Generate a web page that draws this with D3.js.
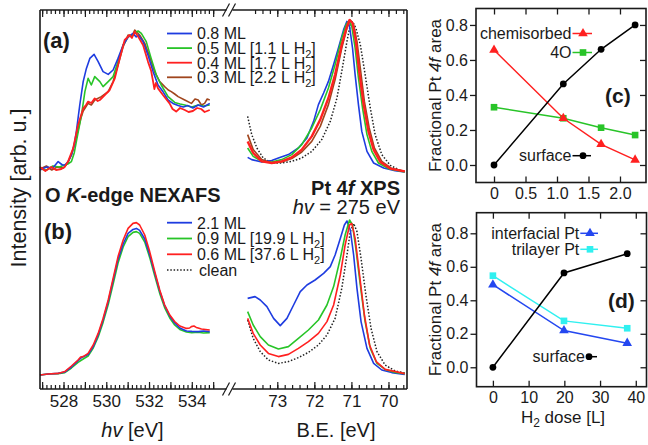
<!DOCTYPE html>
<html lang="en">
<head>
<meta charset="utf-8">
<title>NEXAFS / XPS panels</title>
<script src="https://cdn.jsdelivr.net/npm/d3@7"></script>
<style>
  body { margin: 0; background: #fff; }
</style>
</head>
<body>
<svg id="fig" width="648" height="445"></svg>
<script>
// ---- data (intensity in arb. units, energies in eV) ----

// (a) O K-edge NEXAFS, [photon energy, intensity]
var nexA_08 = [[526.9,10.95],[527.2,11.1],[527.5,11.05],[527.75,11.37],[527.95,11.2],[528.06,11.2],[528.2,11.35],[528.37,11.7],[528.5,12.2],[528.6,12.87],[528.76,14.2],[528.92,15.37],[529.07,16.03],[529.23,16.53],[529.43,16.73],[529.62,16.37],[529.85,15.87],[530.09,15.73],[530.32,15.95],[530.55,16.53],[530.79,17.2],[531.02,17.6],[531.25,17.78],[531.4,17.6],[531.49,17.7],[531.72,17.37],[531.95,16.7],[532.19,15.87],[532.42,15.2],[532.65,14.87],[532.89,14.45],[533.12,14.28],[533.36,14.17],[533.6,14.1],[533.82,14.17],[534.05,14.05],[534.3,14.2],[534.55,14.1],[534.84,14.28]];
var nexA_05 = [[526.9,11.0],[527.2,10.95],[527.5,11.15],[527.8,11.1],[528.06,11.2],[528.2,11.25],[528.37,11.37],[528.5,11.8],[528.6,12.37],[528.84,13.7],[529.0,14.87],[529.15,15.53],[529.3,15.2],[529.46,15.62],[529.7,15.37],[529.85,15.12],[530.09,15.37],[530.32,15.62],[530.55,16.37],[530.79,17.2],[531.02,17.6],[531.33,17.78],[531.49,17.9],[531.64,17.78],[531.87,17.37],[532.1,16.53],[532.34,15.7],[532.57,15.2],[532.89,14.62],[533.2,14.33],[533.45,14.25],[533.67,14.2],[534.0,14.1],[534.3,14.2],[534.55,14.15],[534.84,14.2]];
var nexA_04 = [[526.9,11.1],[527.15,10.9],[527.43,11.1],[527.65,10.95],[527.9,11.0],[528.05,11.1],[528.21,11.37],[528.45,12.03],[528.68,13.2],[528.92,14.03],[529.05,14.2],[529.15,14.37],[529.3,14.3],[529.46,14.53],[529.6,14.4],[529.7,14.45],[529.93,14.7],[530.16,14.95],[530.4,15.53],[530.63,16.53],[530.86,17.45],[531.1,17.7],[531.2,17.55],[531.33,17.87],[531.49,17.62],[531.72,17.2],[531.95,16.37],[532.1,15.9],[532.19,15.37],[532.25,15.0],[532.32,15.3],[532.42,15.03],[532.65,14.7],[532.96,14.28],[533.1,14.0],[533.27,13.87],[533.45,14.05],[533.67,13.95],[533.85,13.85],[534.05,13.9],[534.25,14.05],[534.44,14.0],[534.6,13.85],[534.84,13.95]];
var nexA_03 = [[526.9,11.0],[527.2,11.15],[527.45,10.95],[527.7,11.1],[528.0,11.05],[528.2,11.3],[528.37,11.7],[528.6,12.6],[528.8,13.5],[528.92,13.9],[529.15,14.28],[529.3,14.2],[529.46,14.45],[529.77,14.62],[530.09,14.87],[530.32,15.37],[530.55,16.2],[530.79,17.12],[531.02,17.7],[531.2,17.6],[531.33,17.95],[531.56,17.7],[531.8,17.28],[532.03,16.62],[532.26,15.87],[532.5,15.37],[532.73,15.12],[532.9,14.95],[533.04,14.87],[533.2,14.75],[533.36,14.62],[533.67,14.45],[533.98,14.28],[534.15,14.5],[534.3,14.45],[534.45,14.2],[534.6,14.28],[534.72,14.5],[534.84,14.45]];

// (a) Pt 4f XPS, [binding energy, intensity]
var xpsA_08 = [[73.8,11.58],[73.69,11.47],[73.42,11.35],[73.15,11.42],[72.97,11.55],[72.7,11.72],[72.43,12.05],[72.2,12.55],[72.02,13.38],[71.89,14.22],[71.75,14.8],[71.62,15.38],[71.48,16.22],[71.35,17.05],[71.21,17.97],[71.12,18.38],[71.05,18.13],[70.97,17.05],[70.9,15.72],[70.81,14.22],[70.72,12.88],[70.58,11.88],[70.4,11.3],[70.13,11.05],[69.82,10.92],[69.56,10.85]];
var xpsA_05 = [[73.8,12.05],[73.65,11.63],[73.42,11.38],[73.15,11.35],[72.88,11.47],[72.61,11.72],[72.34,12.22],[72.07,13.05],[71.84,13.97],[71.62,15.05],[71.44,16.22],[71.26,17.55],[71.14,18.22],[71.06,18.42],[70.99,18.13],[70.9,17.05],[70.81,15.55],[70.7,14.05],[70.58,12.72],[70.45,11.88],[70.27,11.3],[70.0,11.02],[69.56,10.85]];
var xpsA_04 = [[73.8,12.38],[73.65,11.8],[73.42,11.38],[73.15,11.3],[72.88,11.38],[72.61,11.58],[72.34,11.97],[72.07,12.63],[71.84,13.47],[71.62,14.55],[71.44,15.72],[71.26,17.22],[71.12,18.13],[71.05,18.45],[70.97,18.3],[70.88,17.38],[70.79,15.88],[70.67,14.22],[70.54,12.88],[70.4,11.97],[70.22,11.35],[69.95,11.02],[69.56,10.88]];
var xpsA_03 = [[73.8,12.72],[73.65,11.97],[73.42,11.47],[73.15,11.3],[72.88,11.35],[72.61,11.52],[72.34,11.85],[72.07,12.38],[71.84,13.13],[71.62,14.22],[71.44,15.47],[71.26,17.05],[71.12,18.05],[71.03,18.45],[70.94,18.22],[70.85,17.38],[70.76,16.05],[70.65,14.38],[70.52,13.05],[70.38,12.05],[70.18,11.38],[69.91,11.02],[69.56,10.88]];
var xpsA_clean = [[73.8,13.63],[73.69,12.72],[73.55,12.05],[73.38,11.55],[73.15,11.3],[72.88,11.3],[72.61,11.38],[72.34,11.55],[72.07,11.88],[71.8,12.47],[71.57,13.38],[71.39,14.55],[71.26,15.88],[71.12,17.38],[71.03,18.22],[70.97,18.38],[70.88,18.05],[70.76,17.22],[70.63,15.72],[70.49,14.05],[70.36,12.72],[70.18,11.72],[69.95,11.18],[69.73,10.97],[69.56,10.88]];

// (b) O K-edge NEXAFS
var nexB_21 = [[526.9,0.7],[527.28,0.75],[527.75,0.78],[528.06,0.85],[528.37,1.1],[528.68,1.42],[528.85,1.58],[529.15,1.72],[529.39,2.12],[529.62,2.7],[529.85,3.45],[530.09,4.37],[530.32,5.43],[530.55,6.48],[530.79,7.25],[531.02,7.78],[531.25,7.98],[531.41,8.03],[531.56,7.93],[531.8,7.5],[532.03,6.72],[532.27,5.78],[532.5,4.9],[532.73,4.18],[532.97,3.65],[533.2,3.3],[533.44,3.05],[533.75,2.9],[534.0,2.88],[534.3,2.87],[534.55,2.9],[534.84,2.87]];
var nexB_09 = [[526.9,0.7],[527.28,0.75],[527.75,0.77],[528.06,0.82],[528.37,1.05],[528.68,1.33],[528.92,1.5],[529.15,1.65],[529.39,2.05],[529.62,2.6],[529.85,3.33],[530.09,4.22],[530.32,5.25],[530.55,6.3],[530.79,7.1],[531.02,7.62],[531.25,7.83],[531.41,7.87],[531.56,7.78],[531.8,7.35],[532.03,6.58],[532.27,5.65],[532.5,4.78],[532.73,4.07],[532.97,3.55],[533.2,3.2],[533.44,2.98],[533.75,2.85],[534.0,2.82],[534.3,2.84],[534.55,2.8],[534.84,2.82]];
var nexB_06 = [[526.9,0.7],[527.28,0.75],[527.75,0.78],[528.06,0.87],[528.37,1.15],[528.68,1.45],[528.8,1.6],[528.92,1.62],[529.15,1.78],[529.39,2.2],[529.62,2.78],[529.85,3.53],[530.09,4.45],[530.32,5.53],[530.55,6.62],[530.79,7.45],[531.02,8.03],[531.25,8.28],[531.41,8.32],[531.56,8.2],[531.8,7.7],[532.03,6.87],[532.27,5.87],[532.5,4.95],[532.73,4.2],[532.97,3.7],[533.2,3.37],[533.44,3.15],[533.75,3.03],[533.9,3.05],[533.98,3.12],[534.1,3.15],[534.21,3.08],[534.3,3.05],[534.45,3.0],[534.84,2.95]];

// (b) Pt 4f XPS
var xpsB_21 = [[73.8,4.53],[73.6,4.62],[73.46,4.45],[73.28,4.12],[73.1,3.53],[72.92,3.17],[72.74,3.53],[72.56,4.2],[72.38,4.87],[72.2,5.2],[71.98,5.45],[71.75,5.78],[71.57,6.12],[71.44,6.7],[71.3,7.53],[71.19,8.2],[71.12,8.4],[71.03,7.95],[70.94,6.7],[70.85,5.03],[70.74,3.37],[70.58,2.03],[70.4,1.28],[70.18,0.95],[69.91,0.82],[69.56,0.73]];
var xpsB_09 = [[73.8,3.87],[73.65,3.2],[73.46,2.62],[73.24,2.2],[72.97,2.0],[72.7,2.12],[72.43,2.53],[72.16,2.95],[71.89,3.45],[71.66,4.2],[71.48,5.12],[71.3,6.53],[71.17,7.7],[71.05,8.45],[70.97,8.2],[70.88,7.03],[70.76,5.2],[70.63,3.37],[70.49,2.03],[70.31,1.28],[70.09,0.98],[69.82,0.83],[69.56,0.77]];
var xpsB_06 = [[73.8,3.53],[73.65,2.78],[73.46,2.2],[73.24,1.78],[72.97,1.62],[72.7,1.73],[72.43,2.03],[72.16,2.37],[71.89,2.78],[71.66,3.37],[71.48,4.2],[71.3,5.7],[71.17,7.2],[71.05,8.2],[70.99,8.28],[70.9,7.53],[70.78,5.7],[70.65,3.7],[70.51,2.2],[70.33,1.37],[70.09,0.98],[69.56,0.77]];
var xpsB_clean = [[73.8,3.45],[73.65,2.53],[73.46,1.87],[73.24,1.45],[72.97,1.28],[72.7,1.37],[72.43,1.57],[72.16,1.83],[71.89,2.2],[71.66,2.7],[71.44,3.53],[71.26,5.03],[71.12,6.7],[71.03,7.87],[70.94,8.28],[70.85,7.87],[70.74,6.53],[70.61,4.7],[70.47,3.03],[70.31,1.87],[70.09,1.2],[69.82,0.9],[69.56,0.8]];

// legends of (a) and (b)
var covA = ["0.8", "0.5", "0.4", "0.3"];
var doseA = [null, "1.1", "1.7", "2.2"];
var covB = ["2.1", "0.9", "0.6", "clean"];
var doseB = [null, "19.9", "37.6", null];

// tick labels
var nexLabels = [528, 530, 532, 534];
var xpsLabels = [73, 72, 71, 70];

// (c) fractional Pt 4f areas vs H2 dose [L]
var doseC = [0, 1.1, 1.7, 2.24];
var surfC = [0, 0.463, 0.661, 0.80];
var chemC = [0.657, 0.267, 0.118, 0.029];
var fourOC = [0.33, 0.267, 0.213, 0.171];

// (d)
var doseD = [0, 19.9, 37.6];
var surfD = [0, 0.563, 0.678];
var interD = [0.493, 0.219, 0.144];
var triD = [0.547, 0.277, 0.233];

// ---- drawing ----
var FONT = '"Liberation Sans", Arial, Helvetica, sans-serif';
var blue = "#1e3ce0", green = "#28c428", red = "#ff2020", brown = "#a0461e",
    cyan = "#30f0f0", iblue = "#2447f0", ink = "#1a1a1a";

var svg = d3.select("#fig").attr("font-family", FONT);
svg.append("rect").attr("width", 648).attr("height", 445).attr("fill", "#fff");

// left panel geometry
var L = 40, R = 407, T = 10, B = 389, BX = 229;
var xN = d3.scaleLinear().domain([526.9, 535.6]).range([L, 226]);
var xB = d3.scaleLinear().domain([74.33, 69.5]).range([228, R]);
var yI = d3.scaleLinear().domain([0, 18.95]).range([B, T]);

function curve(data, xs, color, w, dash) {
  svg.append("path")
    .datum(data)
    .attr("fill", "none")
    .attr("stroke", color)
    .attr("stroke-width", w)
    .attr("stroke-linejoin", "round")
    .attr("stroke-dasharray", dash || null)
    .attr("d", d3.line().x(function(d) { return xs(d[0]); }).y(function(d) { return yI(d[1]); }));
}

curve(nexA_03, xN, brown, 1.6);
curve(nexA_05, xN, green, 1.6);
curve(nexA_08, xN, blue, 1.6);
curve(nexA_04, xN, red, 1.8);
curve(xpsA_clean, xB, "#222", 1.5, "1.5,1.8");
curve(xpsA_08, xB, blue, 1.6);
curve(xpsA_05, xB, green, 1.6);
curve(xpsA_03, xB, brown, 1.6);
curve(xpsA_04, xB, red, 2.4);

curve(nexB_09, xN, green, 1.6);
curve(nexB_21, xN, blue, 1.6);
curve(nexB_06, xN, red, 1.6);
curve(xpsB_clean, xB, "#222", 1.5, "1.5,1.8");
curve(xpsB_21, xB, blue, 1.6);
curve(xpsB_09, xB, green, 1.6);
curve(xpsB_06, xB, red, 1.6);

// frame with axis breaks
var frame = svg.append("g").attr("stroke", ink).attr("stroke-width", 1.6).attr("fill", "none");
frame.append("line").attr("x1", L).attr("x2", L).attr("y1", T).attr("y2", B);
frame.append("line").attr("x1", R).attr("x2", R).attr("y1", T).attr("y2", B);
[T, B].forEach(function(yy) {
  frame.append("line").attr("x1", L).attr("x2", BX - 2.5).attr("y1", yy).attr("y2", yy);
  frame.append("line").attr("x1", BX + 3.5).attr("x2", R).attr("y1", yy).attr("y2", yy);
  frame.append("line").attr("x1", BX - 6.5).attr("y1", yy + 6.5).attr("x2", BX + 0.5).attr("y2", yy - 6.5).attr("stroke-width", 1.2);
  frame.append("line").attr("x1", BX - 0.5).attr("y1", yy + 6.5).attr("x2", BX + 6.5).attr("y2", yy - 6.5).attr("stroke-width", 1.2);
});

// ticks (inside) on bottom and top
var nexMinor = d3.range(2635, 2676).map(function(i) { return i / 5; });
var nexMajor = d3.range(527, 536);
var xpsMinor = d3.range(348, 369).map(function(i) { return i / 5; });
var xpsMajor = [73, 72, 71, 70];

function tickRow(scale, minor, major, labels) {
  var a1 = svg.append("g").attr("transform", "translate(0," + B + ")")
    .call(d3.axisBottom(scale).tickValues(minor).tickSize(-4).tickFormat(""));
  var a2 = svg.append("g").attr("transform", "translate(0," + B + ")")
    .call(d3.axisBottom(scale).tickValues(major).tickSize(-7).tickPadding(6)
      .tickFormat(function(d) { return labels.indexOf(d) >= 0 ? d : ""; }));
  var a3 = svg.append("g").attr("transform", "translate(0," + T + ")")
    .call(d3.axisTop(scale).tickValues(minor).tickSize(-4).tickFormat(""));
  var a4 = svg.append("g").attr("transform", "translate(0," + T + ")")
    .call(d3.axisTop(scale).tickValues(major).tickSize(-7).tickFormat(""));
  [a1, a2, a3, a4].forEach(function(g) {
    g.select(".domain").remove();
    g.selectAll("line").attr("stroke", ink).attr("stroke-width", 1.2);
  });
  a2.attr("font-size", 17).attr("font-family", FONT);
  a2.selectAll("text").attr("fill", ink);
}
tickRow(xN, nexMinor, nexMajor, nexLabels);
tickRow(xB, xpsMinor, xpsMajor, xpsLabels);

// axis titles
svg.append("text").attr("transform", "translate(26,188) rotate(-90)")
  .attr("text-anchor", "middle").attr("font-size", 21.5).attr("fill", ink)
  .text("Intensity [arb. u.]");
var hv1 = svg.append("text").attr("x", 132.5).attr("y", 437).attr("text-anchor", "middle")
  .attr("font-size", 20).attr("fill", ink);
hv1.append("tspan").attr("font-style", "italic").text("hv");
hv1.append("tspan").text(" [eV]");
svg.append("text").attr("x", 336).attr("y", 437).attr("text-anchor", "middle")
  .attr("font-size", 20).attr("fill", ink).text("B.E. [eV]");

// panel titles
svg.append("text").attr("x", 43).attr("y", 47.5).attr("font-size", 22).attr("font-weight", "bold").attr("fill", ink).text("(a)");
svg.append("text").attr("x", 44).attr("y", 239).attr("font-size", 22).attr("font-weight", "bold").attr("fill", ink).text("(b)");
var ok = svg.append("text").attr("x", 45).attr("y", 201.5).attr("font-size", 20).attr("font-weight", "bold").attr("fill", ink);
ok.append("tspan").text("O ");
ok.append("tspan").attr("font-style", "italic").text("K");
ok.append("tspan").text("-edge NEXAFS");
var pt = svg.append("text").attr("x", 400).attr("y", 195).attr("text-anchor", "end").attr("font-size", 20).attr("font-weight", "bold").attr("fill", ink);
pt.append("tspan").text("Pt 4");
pt.append("tspan").attr("font-style", "italic").text("f");
pt.append("tspan").text(" XPS");
var hv2 = svg.append("text").attr("x", 400).attr("y", 213.5).attr("text-anchor", "end").attr("font-size", 20).attr("fill", ink);
hv2.append("tspan").attr("font-style", "italic").text("hv");
hv2.append("tspan").text(" = 275 eV");

// spectra legends
function specLegend(y0, dy, covs, doses, colors) {
  covs.forEach(function(c, i) {
    var y = y0 + i * dy;
    var dotted = c === "clean";
    svg.append("line").attr("x1", 167).attr("x2", dotted ? 193 : 192).attr("y1", y).attr("y2", y)
      .attr("stroke", colors[i]).attr("stroke-width", dotted ? 1.5 : 1.8)
      .attr("stroke-dasharray", dotted ? "1.5,1.8" : null);
    var t = svg.append("text").attr("x", dotted ? 199 : 197).attr("y", y + 5.8)
      .attr("font-size", 16).attr("fill", ink);
    if (dotted) { t.text(c); return; }
    if (doses[i] === null) { t.text(c + " ML"); return; }
    t.append("tspan").text(c + " ML [" + doses[i] + " L H");
    t.append("tspan").attr("font-size", 11).attr("dy", 4).text("2");
    t.append("tspan").attr("dy", -4).text("]");
  });
}
specLegend(33.5, 14.6, covA, doseA, [blue, green, red, brown]);
specLegend(222.7, 15.8, covB, doseB, [blue, green, red, "#222"]);

// ---- right panels ----
function fracPanel(top, xs, ys, xticks, xfmt) {
  var g = svg.append("g");
  var x0 = xs.range()[0], x1 = xs.range()[1];
  var y0 = ys.range()[0], y1 = ys.range()[1];
  var yt = [0, 0.2, 0.4, 0.6, 0.8];
  var ax = [
    g.append("g").attr("transform", "translate(" + x0 + ",0)")
      .call(d3.axisLeft(ys).tickValues(yt).tickSize(6).tickPadding(2).tickFormat(d3.format(".1f"))),
    g.append("g").attr("transform", "translate(" + x1 + ",0)")
      .call(d3.axisLeft(ys).tickValues(yt).tickSize(6).tickFormat("")),
    g.append("g").attr("transform", "translate(0," + y0 + ")")
      .call(d3.axisBottom(xs).tickValues(xticks).tickSize(-6).tickPadding(5).tickFormat(xfmt)),
    g.append("g").attr("transform", "translate(0," + y1 + ")")
      .call(d3.axisTop(xs).tickValues(xticks).tickSize(-6).tickFormat(""))
  ];
  ax.forEach(function(a) {
    a.select(".domain").remove();
    a.selectAll("line").attr("stroke", ink).attr("stroke-width", 1.3);
    a.attr("font-size", 16).attr("font-family", FONT);
    a.selectAll("text").attr("fill", ink);
  });
  g.append("rect").attr("x", x0).attr("y", y1).attr("width", x1 - x0).attr("height", y0 - y1)
    .attr("fill", "none").attr("stroke", ink).attr("stroke-width", 1.6);
  var lab = svg.append("text").attr("transform", "translate(441," + ((y0 + y1) / 2) + ") rotate(-90)")
    .attr("text-anchor", "middle").attr("font-size", 17).attr("fill", ink);
  lab.append("tspan").text("Fractional Pt ");
  lab.append("tspan").attr("font-style", "italic").text("4f");
  lab.append("tspan").text(" area");
  return g;
}

function series(g, xs, ys, xv, yv, color, sym, size) {
  g.append("path").datum(xv)
    .attr("fill", "none").attr("stroke", color).attr("stroke-width", 1.5)
    .attr("d", d3.line().x(function(d) { return xs(d); }).y(function(d, i) { return ys(yv[i]); }));
  g.selectAll(null).data(xv).enter().append("path")
    .attr("transform", function(d, i) { return "translate(" + xs(d) + "," + ys(yv[i]) + ")"; })
    .attr("d", d3.symbol().type(sym).size(size))
    .attr("fill", color);
}

function legendItem(xEnd, y, label, color, sym, size, lx2, mx) {
  svg.append("text").attr("x", xEnd).attr("y", y + 5.5).attr("text-anchor", "end")
    .attr("font-size", 16).attr("fill", ink).text(label);
  svg.append("line").attr("x1", xEnd + 1).attr("x2", lx2).attr("y1", y).attr("y2", y)
    .attr("stroke", color).attr("stroke-width", 1.5);
  svg.append("path").attr("transform", "translate(" + mx + "," + y + ")")
    .attr("d", d3.symbol().type(sym).size(size)).attr("fill", color);
}

// (c)
var xc = d3.scaleLinear().domain([-0.286, 2.413]).range([476, 646]);
var yc = d3.scaleLinear().domain([-0.1, 0.894]).range([182.5, 8.5]);
var gc = fracPanel(0, xc, yc, [0, 0.5, 1, 1.5, 2], function(d) { return d === 0 ? "0" : d3.format(".1f")(d); });
series(gc, xc, yc, doseC, fourOC, green, d3.symbolSquare, 44);
series(gc, xc, yc, doseC, chemC, red, d3.symbolTriangle, 40);
series(gc, xc, yc, doseC, surfC, "#000", d3.symbolCircle, 36);
legendItem(571.5, 33.5, "chemisorbed", red, d3.symbolTriangle, 40, 592, 583);
legendItem(571.5, 52.5, "4O", green, d3.symbolSquare, 44, 592, 583);
legendItem(571.5, 155.7, "surface", "#000", d3.symbolCircle, 36, 591, 583);
svg.append("text").attr("x", 605).attr("y", 102.5).attr("font-size", 21).attr("font-weight", "bold").attr("fill", ink).text("(c)");

// (d)
var xd = d3.scaleLinear().domain([-4.59, 43.0]).range([476.5, 646.5]);
var yd = d3.scaleLinear().domain([-0.116, 0.923]).range([386.7, 212.7]);
var gd = fracPanel(0, xd, yd, [0, 10, 20, 30, 40], d3.format("d"));
series(gd, xd, yd, doseD, triD, cyan, d3.symbolSquare, 44);
series(gd, xd, yd, doseD, interD, iblue, d3.symbolTriangle, 40);
series(gd, xd, yd, doseD, surfD, "#000", d3.symbolCircle, 36);
legendItem(579.3, 233.3, "interfacial Pt", iblue, d3.symbolTriangle, 40, 598, 590);
legendItem(579.3, 249.3, "trilayer Pt", cyan, d3.symbolSquare, 44, 598, 590);
legendItem(585, 356.7, "surface", "#000", d3.symbolCircle, 36, 597, 589);
svg.append("text").attr("x", 608).attr("y", 307.5).attr("font-size", 21).attr("font-weight", "bold").attr("fill", ink).text("(d)");

var hx = svg.append("text").attr("x", 563).attr("y", 423).attr("text-anchor", "middle")
  .attr("font-size", 17).attr("fill", ink);
hx.append("tspan").text("H");
hx.append("tspan").attr("font-size", 12).attr("dy", 4).text("2");
hx.append("tspan").attr("dy", -4).text(" dose [L]");
</script>
</body>
</html>
